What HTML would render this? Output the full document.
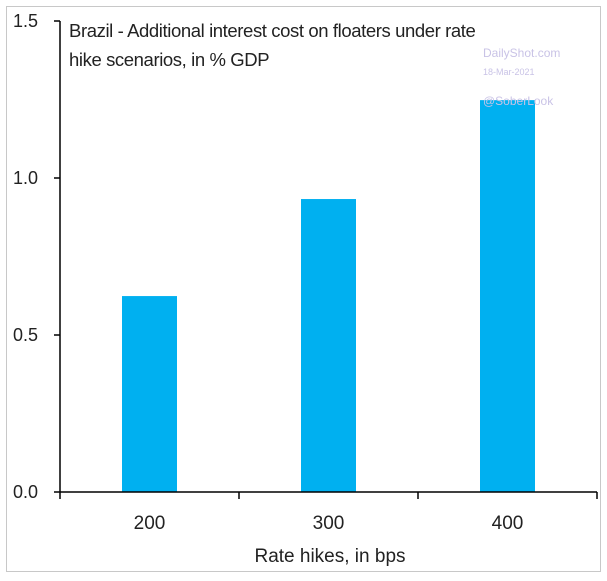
<!DOCTYPE html>
<html><head><meta charset="utf-8"><style>
body{margin:0;background:#fff;width:607px;height:576px;overflow:hidden;font-family:"Liberation Sans",sans-serif}
</style></head><body>
<svg width="607" height="576">
<rect x="6.5" y="6.5" width="594" height="565" fill="#fff" stroke="#c8c8c8"/>
<g id="plot"></g>
<text x="69" y="37" font-size="18.5" fill="#222" letter-spacing="-0.4">Brazil - Additional interest cost on floaters under rate</text>
<text x="69" y="66" font-size="18.5" fill="#222" letter-spacing="-0.4">hike scenarios, in % GDP</text>
<text x="483" y="57" font-size="12" fill="#c9c3e6">DailyShot.com</text>
<text x="483" y="75" font-size="9" fill="#c9c3e6">18-Mar-2021</text>
<text x="483" y="105" font-size="12" fill="#c9c3e6">@SoberLook</text>
<text x="330" y="562" font-size="19" fill="#222" text-anchor="middle">Rate hikes, in bps</text>
</svg>
<script>
const categories=["200","300","400"];
const values=[0.624,0.933,1.248];
const yTicks=[0,0.5,1.0,1.5];
const yTickLabels=["0.0","0.5","1.0","1.5"];
const NS="http://www.w3.org/2000/svg";
const g=document.getElementById('plot');
const x0=60,x1=597,y0=492,y1=21,ymax=1.5;
const band=(x1-x0)/categories.length;
const y=v=>y0-(v/ymax)*(y0-y1);
const xc=i=>x0+band*(i+0.5);
function mk(t,a){const e=document.createElementNS(NS,t);for(const k in a)e.setAttribute(k,a[k]);g.appendChild(e);return e;}
values.forEach((v,i)=>{
 const r=mk('rect',{x:xc(i)-27.5,y:y(v),width:55,height:y0-y(v),fill:'#00b0f0'});
 
 
 const t=mk('text',{x:xc(i),y:529,'font-size':19,fill:'#222','text-anchor':'middle'});
 t.textContent=categories[i];
 
 
});
const ya=mk('line',{x1:x0,y1:y1,x2:x0,y2:y0,stroke:'#000','stroke-width':1.5});


const xa=mk('line',{x1:x0,y1:y0,x2:x1,y2:y0,stroke:'#000','stroke-width':1.5});


for(let i=0;i<=categories.length;i++){
 const tk=mk('line',{x1:x0+band*i,y1:y0,x2:x0+band*i,y2:y0+7,stroke:'#000','stroke-width':1.5});
 
 
}
yTicks.forEach((v,i)=>{
 const tk=mk('line',{x1:x0-6,y1:y(v),x2:x0,y2:y(v),stroke:'#000','stroke-width':1.5});
 
 
 const t=mk('text',{x:38,y:y(v)+6,'font-size':18,fill:'#222','text-anchor':'end'});
 t.textContent=yTickLabels[i];
 
 
});
</script>
</body></html>
